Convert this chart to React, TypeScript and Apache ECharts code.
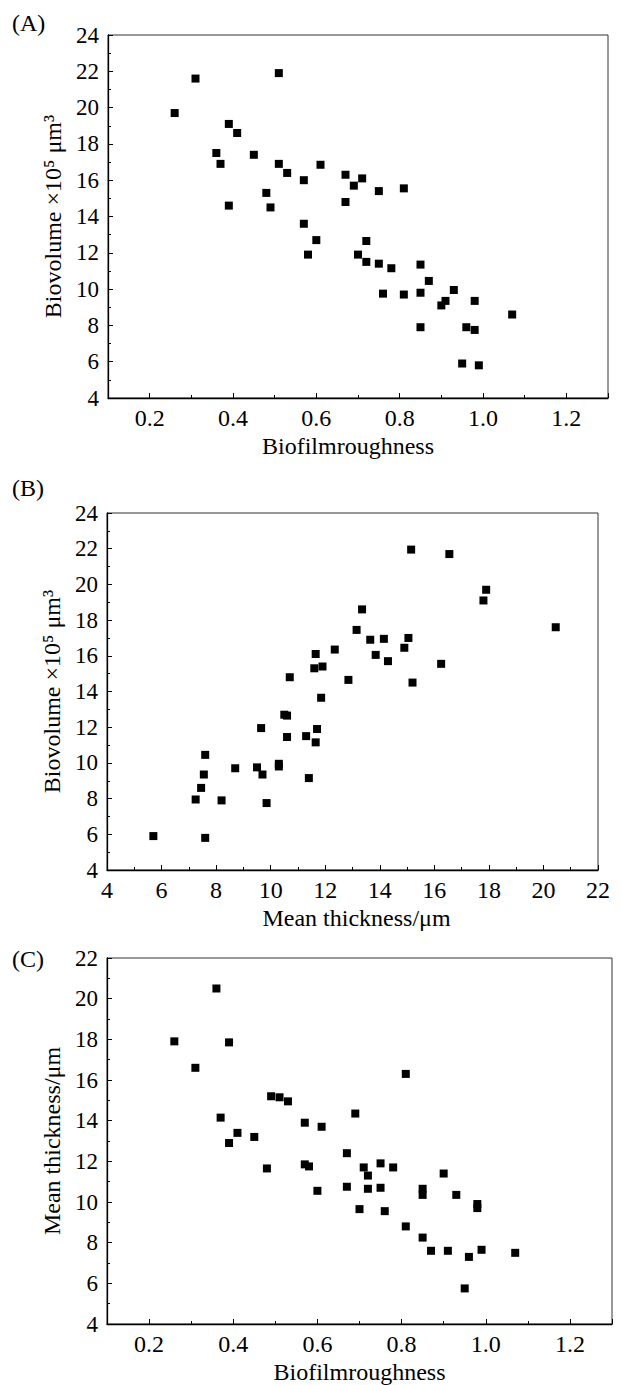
import React, { useEffect, useRef } from "react";
import * as echarts from "echarts";

const PANEL_LABELS = ["(A)", "(B)", "(C)"];
const ROUGH_TITLE = "Biofilmroughness";
const BIOVOL_TITLE = "Biovolume ×10⁵ μm³";
const THICK_TITLE = "Mean thickness/μm";

// Panel A: roughness vs biovolume
const A_ROUGHNESS = [0.26, 0.31, 0.51, 0.39, 0.41, 0.36, 0.37, 0.45, 0.51, 0.53, 0.57, 0.48, 0.49, 0.39, 0.57, 0.61, 0.58, 0.6, 0.67, 0.71, 0.69, 0.75, 0.81, 0.67, 0.72, 0.7, 0.72, 0.75, 0.78, 0.85, 0.87, 0.76, 0.81, 0.85, 0.93, 0.91, 0.9, 0.98, 1.07, 0.85, 0.96, 0.98, 0.95, 0.99];
const A_BIOVOLUME = [19.7, 21.6, 21.9, 19.1, 18.6, 17.5, 16.9, 17.4, 16.9, 16.4, 16.0, 15.3, 14.5, 14.6, 13.6, 16.85, 11.9, 12.7, 16.3, 16.1, 15.7, 15.4, 15.55, 14.8, 12.65, 11.9, 11.5, 11.4, 11.15, 11.35, 10.45, 9.75, 9.7, 9.8, 9.95, 9.35, 9.1, 9.35, 8.6, 7.9, 7.9, 7.75, 5.9, 5.8];

// Panel B: mean thickness vs biovolume
const B_THICKNESS = [5.7, 7.6, 7.25, 8.2, 7.45, 7.55, 7.6, 8.7, 9.5, 9.7, 9.85, 9.65, 10.3, 10.3, 10.5, 10.6, 10.6, 10.7, 11.3, 11.4, 11.7, 11.65, 11.85, 11.65, 11.6, 11.9, 12.35, 12.85, 13.15, 13.35, 13.65, 13.85, 14.15, 14.3, 14.9, 15.05, 15.2, 15.15, 16.55, 16.25, 17.9, 17.8, 20.45];
const B_BIOVOLUME = [5.9, 5.8, 7.95, 7.9, 8.6, 9.35, 10.45, 9.7, 9.75, 9.35, 7.75, 11.95, 9.8, 9.95, 12.7, 12.65, 11.45, 14.8, 11.5, 9.15, 11.9, 11.15, 13.65, 16.1, 15.3, 15.4, 16.35, 14.65, 17.45, 18.6, 16.9, 16.05, 16.95, 15.7, 16.45, 17.0, 14.5, 21.95, 21.7, 15.55, 19.7, 19.1, 17.6];

// Panel C: roughness vs mean thickness
const C_ROUGHNESS = [0.36, 0.26, 0.39, 0.31, 0.49, 0.51, 0.53, 0.37, 0.41, 0.45, 0.39, 0.57, 0.48, 0.57, 0.58, 0.6, 0.61, 0.69, 0.81, 0.67, 0.71, 0.72, 0.75, 0.78, 0.67, 0.72, 0.75, 0.9, 0.85, 0.85, 0.93, 0.98, 0.98, 0.7, 0.76, 0.81, 0.85, 0.87, 0.91, 0.99, 0.96, 1.07, 0.95];
const C_THICKNESS = [20.5, 17.9, 17.85, 16.6, 15.2, 15.15, 14.95, 14.15, 13.4, 13.2, 12.9, 13.9, 11.65, 11.85, 11.75, 10.55, 13.7, 14.35, 16.3, 12.4, 11.7, 11.3, 11.9, 11.7, 10.75, 10.65, 10.7, 11.4, 10.65, 10.35, 10.35, 9.9, 9.7, 9.65, 9.55, 8.8, 8.25, 7.6, 7.6, 7.65, 7.3, 7.5, 5.75];

const FONT = "'Liberation Serif', 'Times New Roman', serif";
const YTICK_FS = 23;
const XTICK_FS = 24;
const TITLE_FS = 24;

const zip = (xs: number[], ys: number[]) => xs.map((x, i) => [x, ys[i]]);

function baseAxis(gridIndex: number) {
  return {
    gridIndex,
    axisLine: { show: true, lineStyle: { color: "#000", width: 1.3 } },
    axisTick: { show: true, inside: true, length: 5, lineStyle: { color: "#000", width: 1 } },
    minorTick: { show: true, splitNumber: 2, length: 3, lineStyle: { color: "#000", width: 1 } },
    splitLine: { show: false },
    minorSplitLine: { show: false },
    nameTextStyle: { color: "#000", fontFamily: FONT, fontSize: TITLE_FS },
  };
}

function roughAxes(gridIndex: number, namePadding: number[]) {
  const main = {
    ...baseAxis(gridIndex),
    type: "value",
    position: "bottom",
    min: 0.1,
    max: 1.3,
    interval: 0.1,
    minorTick: { show: false },
    axisTick: { show: true, inside: true, length: 3, lineStyle: { color: "#000", width: 1 } },
    axisLabel: {
      color: "#000",
      fontFamily: FONT,
      fontSize: XTICK_FS,
      margin: 8,
      showMinLabel: false,
      showMaxLabel: false,
      formatter: (v: number) => (Math.round(v * 10) % 2 === 0 ? v.toFixed(1) : ""),
    },
    name: ROUGH_TITLE,
    nameLocation: "middle",
    nameGap: 36,
    nameTextStyle: { color: "#000", fontFamily: FONT, fontSize: TITLE_FS, padding: namePadding },
  };
  const major = {
    gridIndex,
    type: "value",
    position: "bottom",
    min: 0.1,
    max: 1.3,
    splitNumber: 6,
    axisLine: { show: false },
    axisLabel: { show: false },
    splitLine: { show: false },
    axisTick: { show: true, inside: true, length: 5, lineStyle: { color: "#000", width: 1 } },
  };
  return [main, major];
}

function yAxis(gridIndex: number, min: number, max: number, name: string) {
  return {
    ...baseAxis(gridIndex),
    type: "value",
    min,
    max,
    interval: 2,
    axisLabel: { color: "#000", fontFamily: FONT, fontSize: YTICK_FS, margin: 9 },
    name,
    nameLocation: "middle",
    nameGap: 42,
  };
}

function scatter(xIdx: number, yIdx: number, data: number[][]) {
  return {
    type: "scatter",
    xAxisIndex: xIdx,
    yAxisIndex: yIdx,
    symbol: "rect",
    symbolSize: 8,
    itemStyle: { color: "#000", opacity: 1 },
    data,
  };
}

const gridStyle = { show: true, borderColor: "#333", borderWidth: 1, backgroundColor: "transparent" };

export default function App() {
  const ref = useRef<HTMLDivElement>(null);
  useEffect(() => {
    if (!ref.current) return;
    const chart = echarts.init(ref.current, null, { renderer: "svg" });
    const [aMain, aMajor] = roughAxes(0, [0, 20, 0, 0]);
    const [cMain, cMajor] = roughAxes(2, [0, 0, 0, 0]);
    const bX = {
      ...baseAxis(1),
      type: "value",
      position: "bottom",
      min: 4,
      max: 22,
      interval: 2,
      axisLabel: { color: "#000", fontFamily: FONT, fontSize: XTICK_FS, margin: 8 },
      name: THICK_TITLE,
      nameLocation: "middle",
      nameGap: 36,
      nameTextStyle: { color: "#000", fontFamily: FONT, fontSize: TITLE_FS, padding: [0, 0, 0, 8] },
    };
    chart.setOption({
      animation: false,
      backgroundColor: "#fff",
      textStyle: { fontFamily: FONT },
      grid: [
        { ...gridStyle, left: 108, top: 35, width: 500, height: 363 },
        { ...gridStyle, left: 107, top: 513, width: 491, height: 357 },
        { ...gridStyle, left: 107, top: 958, width: 505, height: 368 },
      ],
      xAxis: [aMain, aMajor, bX, cMain, cMajor],
      yAxis: [
        yAxis(0, 4, 24, BIOVOL_TITLE),
        yAxis(1, 4, 24, BIOVOL_TITLE),
        yAxis(2, 4, 22, THICK_TITLE),
      ],
      series: [
        scatter(0, 0, zip(A_ROUGHNESS, A_BIOVOLUME)),
        scatter(2, 1, zip(B_THICKNESS, B_BIOVOLUME)),
        scatter(3, 2, zip(C_ROUGHNESS, C_THICKNESS)),
      ],
      graphic: [
        { type: "text", left: 12, top: 11, style: { text: PANEL_LABELS[0], font: `24px ${FONT}`, fill: "#000" } },
        { type: "text", left: 12, top: 476, style: { text: PANEL_LABELS[1], font: `24px ${FONT}`, fill: "#000" } },
        { type: "text", left: 12, top: 947, style: { text: PANEL_LABELS[2], font: `24px ${FONT}`, fill: "#000" } },
      ],
    });
    return () => chart.dispose();
  }, []);
  return (
    <div
      ref={ref}
      style={{ position: "absolute", left: 0, top: 0, width: 622, height: 1385, background: "#fff" }}
    />
  );
}
